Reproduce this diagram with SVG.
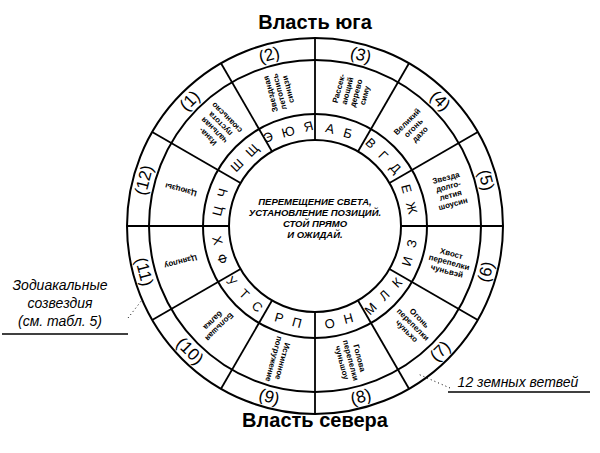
<svg xmlns="http://www.w3.org/2000/svg" width="600" height="453" viewBox="0 0 600 453">
<defs>
<style>
.ln{fill:none;stroke:#000;stroke-width:2}
.sp{stroke:#000;stroke-width:1.8}
.num{font-family:"Liberation Sans",Arial,sans-serif;font-size:17px;text-anchor:middle;dominant-baseline:central}
.let{font-family:"Liberation Sans",Arial,sans-serif;font-size:13px;text-anchor:middle;dominant-baseline:central;letter-spacing:3px}
.st{font-family:"Liberation Sans",Arial,sans-serif;font-size:8px;font-weight:bold;text-anchor:middle}
.ct{font-family:"Liberation Sans",Arial,sans-serif;font-size:9.5px;font-weight:bold;font-style:italic;text-anchor:middle}
.ti{font-family:"Liberation Sans",Arial,sans-serif;font-size:20px;font-weight:bold}
.sd{font-family:"Liberation Sans",Arial,sans-serif;font-size:14px;font-style:italic;text-anchor:middle}
</style>
<path id="topArc" d="M 215 226 A 100 195 0 0 1 415 226"/>
<path id="botArc" d="M 215 226 A 100 193 0 0 0 415 226"/>
</defs>
<rect width="600" height="453" fill="#fff"/>
<g id="rings">
<circle class="ln" cx="315" cy="226" r="188"/>
<circle class="ln" cx="315" cy="226" r="166"/>
<circle class="ln" cx="315" cy="226" r="112"/>
<circle class="ln" cx="315" cy="226" r="86"/>
</g>
<g id="connectors">
<line class="sp" x1="315" y1="140" x2="315" y2="38" stroke-width="2.5"/>
<line class="sp" x1="315" y1="312" x2="315" y2="414" stroke-width="2.5"/>
<line class="sp" x1="229" y1="226" x2="127" y2="226" stroke-width="2.5"/>
<line class="sp" x1="401" y1="226" x2="503" y2="226" stroke-width="2.5"/>
<g transform="rotate(30 315 226)"><line class="sp" x1="315" y1="140" x2="315" y2="38"/></g>
<g transform="rotate(60 315 226)"><line class="sp" x1="315" y1="140" x2="315" y2="38"/></g>
<g transform="rotate(120 315 226)"><line class="sp" x1="315" y1="140" x2="315" y2="38"/></g>
<g transform="rotate(150 315 226)"><line class="sp" x1="315" y1="140" x2="315" y2="38"/></g>
<g transform="rotate(210 315 226)"><line class="sp" x1="315" y1="140" x2="315" y2="38"/></g>
<g transform="rotate(240 315 226)"><line class="sp" x1="315" y1="140" x2="315" y2="38"/></g>
<g transform="rotate(300 315 226)"><line class="sp" x1="315" y1="140" x2="315" y2="38"/></g>
<g transform="rotate(330 315 226)"><line class="sp" x1="315" y1="140" x2="315" y2="38"/></g>
<path d="M128 318 L142 300" stroke="#000" stroke-width="1" stroke-dasharray="1 3" fill="none"/>
<path d="M450 388 L418 374" stroke="#000" stroke-width="1" stroke-dasharray="1 3" fill="none"/>
</g>
<g id="center">
<text class="ct" x="315" y="205">ПЕРЕМЕЩЕНИЕ СВЕТА,</text>
<text class="ct" x="315" y="216">УСТАНОВЛЕНИЕ ПОЗИЦИЙ.</text>
<text class="ct" x="315" y="227">СТОЙ ПРЯМО</text>
<text class="ct" x="315" y="238">И ОЖИДАЙ.</text>
</g>
<g id="s3" transform="rotate(15 315 226)"><text class="num" x="315" y="49">(3)</text><text class="let" x="315" y="128">А Б</text><g transform="translate(315 87) rotate(-90)"><text class="st" y="-10">Рассек-</text><text class="st" y="-1">ающий</text><text class="st" y="8">дерево</text><text class="st" y="17">симу</text></g></g>
<g id="s4" transform="rotate(45 315 226)"><text class="num" x="315" y="49">(4)</text><text class="let" x="315" y="128">В Г Д</text><g transform="translate(315 87) rotate(-90)"><text class="st" y="-6">Великий</text><text class="st" y="3">огонь</text><text class="st" y="12">дахо</text></g></g>
<g id="s5" transform="rotate(75 315 226)"><text class="num" x="315" y="49">(5)</text><text class="let" x="315" y="128">Е Ж</text><g transform="translate(315 87) rotate(-90)"><text class="st" y="-10">Звезда</text><text class="st" y="-1">долго-</text><text class="st" y="8">летия</text><text class="st" y="17">шоусин</text></g></g>
<g id="s6" transform="rotate(105 315 226)"><g transform="translate(315 49) rotate(180)"><text class="num">(6)</text></g><g transform="translate(315 128) rotate(180)"><text class="let">И З</text></g><g transform="translate(315 87) rotate(-90)"><text class="st" y="-6">Хвост</text><text class="st" y="3">перепелки</text><text class="st" y="12">чуньвэй</text></g></g>
<g id="s7" transform="rotate(135 315 226)"><g transform="translate(315 49) rotate(180)"><text class="num">(7)</text></g><g transform="translate(315 128) rotate(180)"><text class="let">М Л К</text></g><g transform="translate(315 87) rotate(-90)"><text class="st" y="-6">Огонь</text><text class="st" y="3">перепелки</text><text class="st" y="12">чуньхо</text></g></g>
<g id="s8" transform="rotate(165 315 226)"><g transform="translate(315 49) rotate(180)"><text class="num">(8)</text></g><g transform="translate(315 128) rotate(180)"><text class="let">О Н</text></g><g transform="translate(315 87) rotate(-90)"><text class="st" y="-6">Голова</text><text class="st" y="3">перепелки</text><text class="st" y="12">чуньшоу</text></g></g>
<g id="s9" transform="rotate(195 315 226)"><g transform="translate(315 49) rotate(180)"><text class="num">(9)</text></g><g transform="translate(315 128) rotate(180)"><text class="let">Р П</text></g><g transform="translate(315 87) rotate(-90)"><text class="st" y="-1">Истинное</text><text class="st" y="8">погружение</text></g></g>
<g id="s10" transform="rotate(225 315 226)"><g transform="translate(315 49) rotate(180)"><text class="num">(10)</text></g><g transform="translate(315 128) rotate(180)"><text class="let">У Т С</text></g><g transform="translate(315 87) rotate(-90)"><text class="st" y="-1">Большая</text><text class="st" y="8">балка</text></g></g>
<g id="s11" transform="rotate(255 315 226)"><g transform="translate(315 49) rotate(180)"><text class="num">(11)</text></g><g transform="translate(315 128) rotate(180)"><text class="let">Х Ф</text></g><g transform="translate(315 87) rotate(-90)"><text class="st" y="3">Цзянлоу</text></g></g>
<g id="s12" transform="rotate(285 315 226)"><text class="num" x="315" y="49">(12)</text><text class="let" x="315" y="128">Ц Ч</text><g transform="translate(315 87) rotate(-90)"><text class="st" y="3">Цзюцзы</text></g></g>
<g id="s1" transform="rotate(315 315 226)"><text class="num" x="315" y="49">(1)</text><text class="let" x="315" y="128">Ш Щ</text><g transform="translate(315 87) rotate(-90)"><text class="st" y="-10">Изна-</text><text class="st" y="-1">чальная</text><text class="st" y="8">пустота</text><text class="st" y="17">сюаньсяо</text></g></g>
<g id="s2" transform="rotate(345 315 226)"><text class="num" x="315" y="49">(2)</text><text class="let" x="315" y="128">Э Ю Я</text><g transform="translate(315 87) rotate(-90)"><text class="st" y="-6">Звездная</text><text class="st" y="3">летопись</text><text class="st" y="12">синцзи</text></g></g>
<g id="titles">
<text class="ti" x="315" y="29" text-anchor="middle">Власть юга</text>
<text class="ti" x="315" y="427" text-anchor="middle">Власть севера</text>
</g>
<g id="labels">
<text class="sd" x="60" y="290">Зодиакальные</text>
<text class="sd" x="60" y="308">созвездия</text>
<text class="sd" x="60" y="326">(см. табл. 5)</text>
<line x1="2" y1="334" x2="128" y2="334" stroke="#000" stroke-width="1.5"/>
<text class="sd" x="518" y="387">12 земных ветвей</text>
<line x1="448" y1="392" x2="590" y2="392" stroke="#000" stroke-width="1.5"/>
</g>
</svg>
